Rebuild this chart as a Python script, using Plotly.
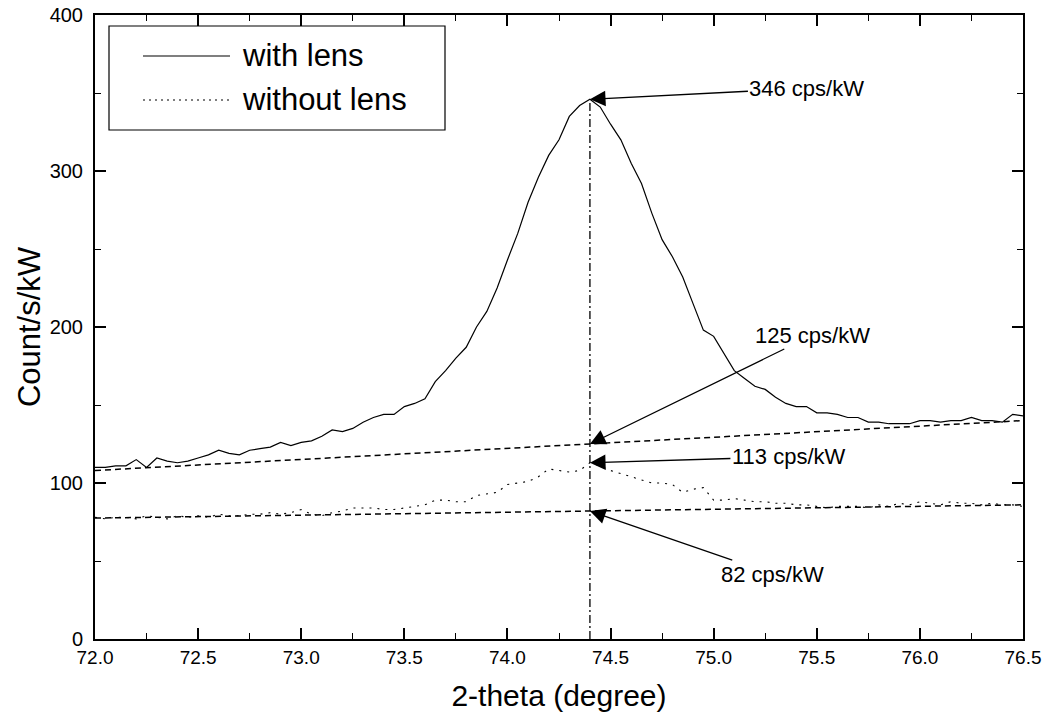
import plotly.graph_objects as go

# 2-theta scan positions (degree), 0.05 step
two_theta = [round(72.0 + 0.05 * i, 2) for i in range(91)]

# Intensity with the lens (counts/s/kW)
with_lens = [
    110, 110, 111, 111, 115, 110, 116, 114, 113, 114,
    116, 118, 121, 119, 118, 121, 122, 123, 126, 124,
    126, 127, 130, 134, 133, 135, 139, 142, 144, 144,
    149, 151, 154, 165, 172, 180, 187, 200, 210, 225,
    243, 260, 280, 296, 310, 320, 335, 342, 346, 341,
    330, 320, 305, 292, 273, 256, 245, 232, 215, 198,
    194, 183, 172, 167, 162, 160, 155, 151, 149, 149,
    145, 145, 144, 142, 142, 139, 139, 138, 138, 138,
    140, 140, 139, 140, 140, 142, 140, 140, 139, 144,
    143,
]

# Intensity without the lens (counts/s/kW)
without_lens = [
    78, 77, 78, 78, 77, 79, 78, 77, 79, 78,
    79, 78, 80, 79, 79, 80, 80, 81, 80, 81,
    83, 80, 79, 81, 82, 84, 84, 84, 83, 83,
    84, 85, 86, 89, 89, 88, 88, 92, 93, 94,
    99, 100, 101, 104, 109, 108, 107, 108, 113, 111,
    108, 106, 104, 102, 100, 100, 99, 94, 96, 97,
    89, 89, 90, 89, 88, 88, 87, 87, 86, 86,
    85, 84, 85, 85, 85, 84, 86, 85, 87, 86,
    88, 87, 86, 88, 87, 87, 86, 87, 86, 86,
    85,
]

# Linear backgrounds under each scan
baseline_x = [72.0, 74.4, 76.5]
baseline_with = [108, 125, 140]
baseline_without = [77.5, 82, 86]

peak_pos = 74.4
peak_with = 346
peak_without = 113
bg_with = 125
bg_without = 82

x_ticks = [72.0, 72.5, 73.0, 73.5, 74.0, 74.5, 75.0, 75.5, 76.0, 76.5]
y_ticks = [0, 100, 200, 300, 400]

FONT = "Liberation Sans, Arial, sans-serif"

fig = go.Figure()

fig.add_trace(go.Scatter(x=two_theta, y=with_lens, mode="lines",
                         line=dict(color="black", width=1.2), name="with lens"))
fig.add_trace(go.Scatter(x=two_theta, y=without_lens, mode="lines",
                         line=dict(color="black", width=1.1, dash="2px,6px"),
                         name="without lens"))
fig.add_trace(go.Scatter(x=baseline_x, y=baseline_with, mode="lines",
                         line=dict(color="black", width=1.5, dash="6px,4px"),
                         showlegend=False))
fig.add_trace(go.Scatter(x=baseline_x, y=baseline_without, mode="lines",
                         line=dict(color="black", width=1.5, dash="6px,4px"),
                         showlegend=False))
fig.add_trace(go.Scatter(x=[peak_pos, peak_pos], y=[0, peak_with], mode="lines",
                         line=dict(color="black", width=1.3, dash="8px,3px,2px,3px"),
                         showlegend=False))

# Value callouts
callouts = [
    (peak_with, f"{peak_with} cps/kW", 217, -11),
    (bg_with, f"{bg_with} cps/kW", 223, -109),
    (peak_without, f"{peak_without} cps/kW", 199, -6),
    (bg_without, f"{bg_without} cps/kW", 183, 63),
]
for yv, txt, ax, ay in callouts:
    fig.add_annotation(x=peak_pos, y=yv, text=txt, showarrow=True,
                       ax=ax, ay=ay, arrowhead=2, arrowsize=2.4, arrowwidth=1.3,
                       arrowcolor="black", standoff=0,
                       font=dict(family=FONT, size=22, color="black"))

# Hand-placed legend box (pixel layout converted to paper units)
L, T, W, H = 95, 15, 928, 624


def px(x):
    return (x - L) / W


def py(y):
    return (T + H - y) / H


fig.add_shape(type="rect", xref="paper", yref="paper",
              x0=px(109), x1=px(445), y0=py(130), y1=py(26),
              line=dict(color="black", width=1.2), fillcolor="white", layer="above")
fig.add_shape(type="line", xref="paper", yref="paper",
              x0=px(143), x1=px(230), y0=py(56), y1=py(56),
              line=dict(color="black", width=1.2))
fig.add_shape(type="line", xref="paper", yref="paper",
              x0=px(143), x1=px(230), y0=py(100), y1=py(100),
              line=dict(color="black", width=1.1, dash="2px,4px"))
for yy, label in [(56, "with lens"), (100, "without lens")]:
    fig.add_annotation(x=px(240), y=py(yy), xref="paper", yref="paper",
                       text=label, showarrow=False, xanchor="left", yanchor="middle",
                       font=dict(family=FONT, size=31, color="black"))

axis_common = dict(showline=True, linecolor="black", linewidth=2, mirror="ticks",
                   ticks="inside", ticklen=11, tickwidth=1.5, tickcolor="black",
                   showgrid=False, zeroline=False, automargin=False)

fig.update_xaxes(range=[72.0, 76.5], tickvals=x_ticks,
                 ticktext=[f"{v:.1f}" for v in x_ticks],
                 ticklabeloverflow="allow",
                 minor=dict(dtick=0.25, ticks="inside", ticklen=6, tickwidth=1.3,
                            tickcolor="black"),
                 tickfont=dict(family=FONT, size=19, color="black"),
                 title=dict(text="2-theta (degree)", standoff=18,
                            font=dict(family=FONT, size=30, color="black")),
                 **axis_common)
fig.update_yaxes(range=[0, 400], tickvals=y_ticks,
                 ticklabelstandoff=6,
                 minor=dict(dtick=50, ticks="inside", ticklen=6, tickwidth=1.3,
                            tickcolor="black"),
                 tickfont=dict(family=FONT, size=20, color="black"),
                 title=dict(text="Count/s/kW", standoff=0,
                            font=dict(family=FONT, size=31, color="black")),
                 **axis_common)

fig.update_layout(width=1042, height=722, showlegend=False,
                  margin=dict(l=L, r=1042 - L - W, t=T, b=722 - T - H),
                  paper_bgcolor="white", plot_bgcolor="white")

fig.write_html("out.html")
